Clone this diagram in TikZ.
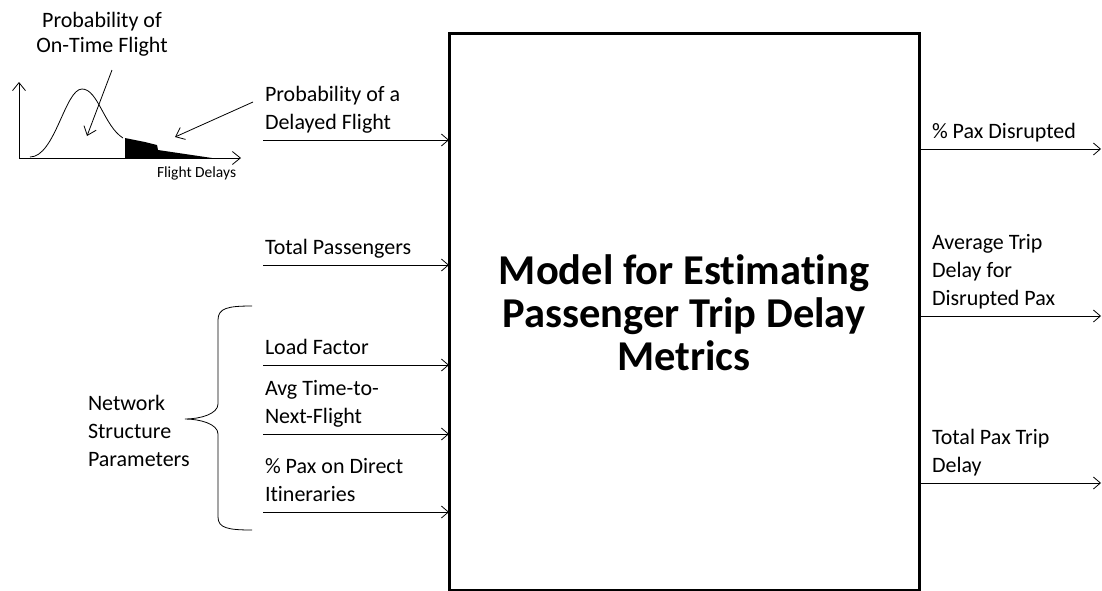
\documentclass[tikz,border=0pt]{standalone}
\usepackage{fontspec}
\setmainfont{Carlito}[Ligatures=NoCommon]
\usetikzlibrary{positioning,calc,arrows.meta}

\begin{document}
\begin{tikzpicture}[x=1pt,y=-1pt]
                        \tikzstyle{every node}=[inner sep=0,outer sep=0]
                        \tikzstyle{lbl}=[anchor=south west,align=left,text depth=5,font=\fontsize{22}{28}\selectfont]
                        \tikzstyle{flow}=[-{Straight Barb[length=7,width=12]},line width=0.8]
                        \tikzstyle{pointer}=[-{Straight Barb[length=8,width=13]},line width=0.8]
                        \useasboundingbox (0,0) rectangle (1102,590);
                        {
                            % the model box
                            \node[draw,line width=3,minimum width=470,minimum height=557,anchor=north west] (model) at (449,33) {};
                            \node[font=\fontsize{42.5}{43}\selectfont\bfseries,align=center] (title) at (684,313) {Model for Estimating\\Passenger Trip Delay\\Metrics};

                            % delay distribution
                            \coordinate (orig) at (19,158);
                            \draw[pointer] (orig) -- (19,82);
                            \draw[pointer] (orig) -- (241,158);
                            \draw[line width=0.8] (30,157) .. controls (55,157) and (65,89) .. (82,89)
                                .. controls (98,89) and (104,126) .. (123,138);
                            \fill (125,158) -- (125,138) -- (145,142) -- (157,145) -- (158,150) -- (185,154) -- (212,158) -- cycle;
                            \node[font=\fontsize{15.5}{18}\selectfont,anchor=base west] (delays) at (157,177) {Flight Delays};
                            \node[font=\fontsize{22}{25}\selectfont,align=center] (ontime) at (102,34) {Probability of\\On-Time Flight};
                            \coordinate (onTip) at (87,136);
                            \coordinate (lateTip) at (175,137);
                            \draw[pointer] (112,70) -- (onTip);
                            \draw[pointer] (253,102) -- (lateTip);

                            % inputs
                            \coordinate (inLate) at (263,140);
                            \coordinate (inPax) at (263,265);
                            \coordinate (inLoad) at (263,365);
                            \coordinate (inTime) at (263,434);
                            \coordinate (inDirect) at (263,512);
                            \foreach \c in {inLate,inPax,inLoad,inTime,inDirect}
                                \draw[flow] (\c) -- (\c -| model.west);
                            \node[lbl] (lateLbl) at ($(inLate)+(2,-6)$) {Probability of a\\Delayed Flight};
                            \node[lbl] (paxLbl) at ($(inPax)+(2,-6)$) {Total Passengers};
                            \node[lbl] (loadLbl) at ($(inLoad)+(2,-6)$) {Load Factor};
                            \node[lbl] (timeLbl) at ($(inTime)+(2,-6)$) {Avg Time-to-\\Next-Flight};
                            \node[lbl] (directLbl) at ($(inDirect)+(2,-6)$) {\% Pax on Direct\\Itineraries};

                            % network structure brace
                            \draw[line width=0.8] (252,306) .. controls (228,306) and (218,308) .. (218,320) -- (218,404)
                                .. controls (218,414) and (200,419) .. (185,419)
                                .. controls (200,419) and (218,424) .. (218,434) -- (218,517)
                                .. controls (218,528) and (228,530) .. (252,530);
                            \node[anchor=west,align=left,font=\fontsize{22}{28}\selectfont] (netLbl) at (88,431) {Network\\Structure\\Parameters};

                            % outputs
                            \coordinate (outDis) at (1101,149);
                            \coordinate (outAvg) at (1101,316);
                            \coordinate (outTot) at (1101,483);
                            \foreach \c in {outDis,outAvg,outTot}
                                \draw[flow] (\c -| model.east) -- (\c);
                            \node[lbl] (disLbl) at (932,143) {\% Pax Disrupted};
                            \node[lbl] (avgLbl) at (932,310) {Average Trip\\Delay for\\Disrupted Pax};
                            \node[lbl] (totLbl) at (932,477) {Total Pax Trip\\Delay};
                        }
                    \end{tikzpicture}
\end{document}
